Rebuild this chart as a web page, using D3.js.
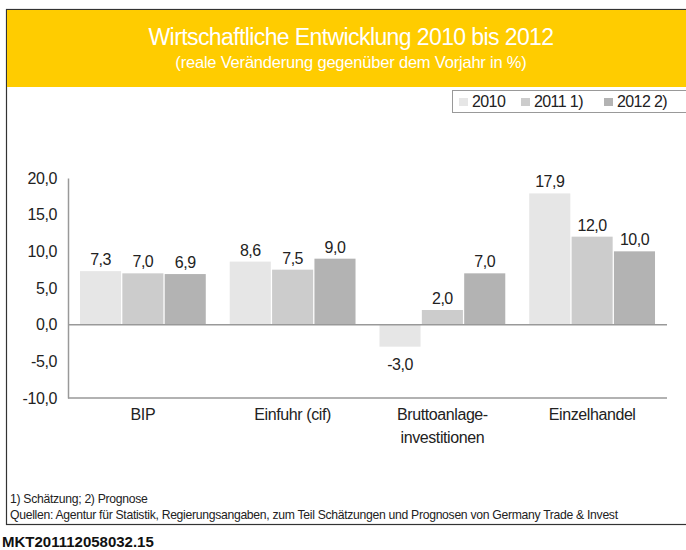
<!DOCTYPE html>
<html><head><meta charset="utf-8">
<script src="https://cdn.jsdelivr.net/npm/d3@7"></script>
<style>
body{margin:0;background:#fff;}
text{font-family:"Liberation Sans",Arial,sans-serif;}
</style></head>
<body><svg id="c" width="686" height="550"></svg>
<script>
const categories = [["BIP"],["Einfuhr (cif)"],["Bruttoanlage-","investitionen"],["Einzelhandel"]];
const seriesNames = ["2010","2011 1)","2012 2)"];
const values2010 = [7.3, 8.6, -3.0, 17.9];
const values2011 = [7.0, 7.5, 2.0, 12.0];
const values2012 = [6.9, 9.0, 7.0, 10.0];
const yTicks = [-10,-5,0,5,10,15,20];
const colors = ["#e6e6e6","#cccccc","#b3b3b3"];

const svg = d3.select("#c");
const fmt = v => v.toFixed(1).replace(".", ",");

// frame + header
svg.append("rect").attr("x",6.5).attr("y",9.5).attr("width",700).attr("height",515).attr("fill","#fff").attr("stroke","#333").attr("stroke-width",1.2);
svg.append("rect").attr("x",7).attr("y",10).attr("width",700).attr("height",77).attr("fill","#ffcc00");
svg.append("text").attr("x",351).attr("y",45).attr("text-anchor","middle").attr("fill","#fff")
  .attr("font-size",23).attr("letter-spacing",-0.6).text("Wirtschaftliche Entwicklung 2010 bis 2012");
svg.append("text").attr("x",351).attr("y",68).attr("text-anchor","middle").attr("fill","#fff")
  .attr("font-size",16.5).attr("letter-spacing",-0.2).text("(reale Veränderung gegenüber dem Vorjahr in %)");

// scales
const x0 = d3.scaleBand().domain(d3.range(categories.length)).range([68,667]).paddingInner(0.16).paddingOuter(0.08);
const x1 = d3.scaleBand().domain(d3.range(seriesNames.length)).range([0,x0.bandwidth()]).paddingInner(0.03);
const y = d3.scaleLinear().domain([-10,20]).range([398,178]);

// axes
const ya = svg.append("g").attr("transform","translate(68,0)").call(d3.axisLeft(y).tickValues(yTicks).tickSize(0).tickPadding(11).tickFormat(fmt));
ya.select(".domain").attr("stroke","#999").attr("stroke-width",1.5);
ya.selectAll("text").attr("font-size",16).attr("fill","#222").attr("letter-spacing",-0.4).attr("font-family","Liberation Sans, Arial, sans-serif");
svg.append("line").attr("x1",68).attr("x2",667).attr("y1",y(-10)).attr("y2",y(-10)).attr("stroke","#999").attr("stroke-width",1.5);

const series = [values2010, values2011, values2012];
series.forEach((vals,si)=>{
  const g = svg.append("g");
  g.selectAll("rect").data(vals).join("rect")
    .attr("x",(d,i)=>x0(i)+x1(si)).attr("width",x1.bandwidth())
    .attr("y",d=>y(Math.max(0,d))).attr("height",d=>Math.abs(y(d)-y(0)))
    .attr("fill",colors[si]);
  g.selectAll("text").data(vals).join("text")
    .attr("x",(d,i)=>x0(i)+x1(si)+x1.bandwidth()/2)
    .attr("y",d=> d>=0 ? y(d)-6 : y(d)+23)
    .attr("text-anchor","middle").attr("font-size",16).attr("fill","#222").attr("letter-spacing",-0.5)
    .text(fmt);
});
svg.append("line").attr("x1",68).attr("x2",667).attr("y1",y(0)).attr("y2",y(0)).attr("stroke","#999").attr("stroke-width",1.5);

// category labels
categories.forEach((lines,i)=>{
  lines.forEach((ln,j)=>{
    svg.append("text").attr("x",x0(i)+x0.bandwidth()/2).attr("y",420+j*23)
      .attr("text-anchor","middle").attr("font-size",16).attr("fill","#222").attr("letter-spacing",-0.4).text(ln);
  });
});

// legend
svg.append("rect").attr("x",452.5).attr("y",90.5).attr("width",250).attr("height",22).attr("fill","#fff").attr("stroke","#999");
const legX = [459,521,604];
seriesNames.forEach((s,i)=>{
  svg.append("rect").attr("x",legX[i]).attr("y",98).attr("width",9).attr("height",8).attr("fill",colors[i]);
  svg.append("text").attr("x",legX[i]+13).attr("y",107).attr("font-size",16).attr("fill","#222").attr("letter-spacing",-0.6).text(s);
});

// footnotes
svg.append("text").attr("x",10).attr("y",503).attr("font-size",12.2).attr("fill","#222").attr("letter-spacing",-0.3).text("1) Schätzung; 2) Prognose");
svg.append("text").attr("x",10).attr("y",519).attr("font-size",12.2).attr("fill","#222").attr("letter-spacing",-0.3).text("Quellen: Agentur für Statistik, Regierungsangaben, zum Teil Schätzungen und Prognosen von Germany Trade & Invest");
svg.append("text").attr("x",2).attr("y",547).attr("font-size",15).attr("font-weight","bold").attr("fill","#111").text("MKT201112058032.15");
</script></body></html>
